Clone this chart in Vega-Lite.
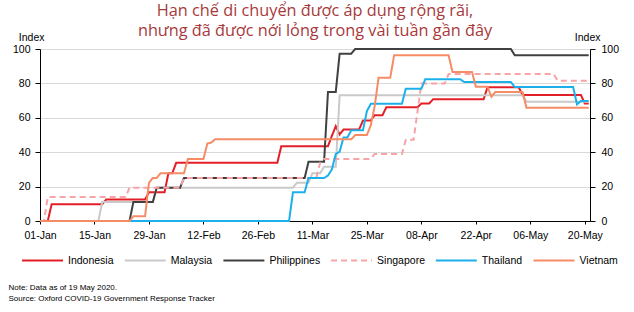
{
  "$schema": "https://vega.github.io/schema/vega-lite/v6.json",
  "width": 550,
  "height": 172,
  "autosize": {"type": "none"},
  "padding": {"left": 40, "top": 49, "right": 44, "bottom": 91},
  "background": "white",
  "title": {
    "text": ["Hạn chế di chuyển được áp dụng rộng rãi,", "nhưng đã được nới lỏng trong vài tuần gần đây"],
    "font": "Open Sans",
    "fontSize": 16.3,
    "fontWeight": "normal",
    "color": "#A8393B",
    "lineHeight": 20,
    "anchor": "middle",
    "frame": "group",
    "offset": -7
  },
  "config": {
    "view": {"stroke": null},
    "axis": {
      "labelFont": "Liberation Sans",
      "labelFontSize": 10.5,
      "labelColor": "#000000",
      "domainColor": "#000000",
      "tickColor": "#000000",
      "domainWidth": 1,
      "tickWidth": 1,
      "titleFont": "Liberation Sans",
      "titleFontSize": 10.5,
      "titleFontWeight": "normal",
      "titleColor": "#000000"
    }
  },
  "data": {
    "values": [
      {"country": "Indonesia", "date": "2020-01-01", "value": 0},
      {"country": "Indonesia", "date": "2020-01-03", "value": 0},
      {"country": "Indonesia", "date": "2020-01-04", "value": 9.8},
      {"country": "Indonesia", "date": "2020-01-17", "value": 9.8},
      {"country": "Indonesia", "date": "2020-01-18", "value": 12.5},
      {"country": "Indonesia", "date": "2020-01-28", "value": 12.5},
      {"country": "Indonesia", "date": "2020-01-29", "value": 16.7},
      {"country": "Indonesia", "date": "2020-02-02", "value": 16.7},
      {"country": "Indonesia", "date": "2020-02-03", "value": 27.8},
      {"country": "Indonesia", "date": "2020-02-04", "value": 27.8},
      {"country": "Indonesia", "date": "2020-02-05", "value": 33.9},
      {"country": "Indonesia", "date": "2020-03-02", "value": 33.9},
      {"country": "Indonesia", "date": "2020-03-03", "value": 43.5},
      {"country": "Indonesia", "date": "2020-03-15", "value": 43.5},
      {"country": "Indonesia", "date": "2020-03-16", "value": 49.5},
      {"country": "Indonesia", "date": "2020-03-17", "value": 55.1},
      {"country": "Indonesia", "date": "2020-03-18", "value": 50.3},
      {"country": "Indonesia", "date": "2020-03-19", "value": 53.2},
      {"country": "Indonesia", "date": "2020-03-23", "value": 53.2},
      {"country": "Indonesia", "date": "2020-03-24", "value": 58.4},
      {"country": "Indonesia", "date": "2020-03-26", "value": 58.4},
      {"country": "Indonesia", "date": "2020-03-27", "value": 61.5},
      {"country": "Indonesia", "date": "2020-03-29", "value": 61.5},
      {"country": "Indonesia", "date": "2020-03-30", "value": 66.1},
      {"country": "Indonesia", "date": "2020-04-07", "value": 66.1},
      {"country": "Indonesia", "date": "2020-04-08", "value": 68.3},
      {"country": "Indonesia", "date": "2020-04-10", "value": 68.3},
      {"country": "Indonesia", "date": "2020-04-11", "value": 70.8},
      {"country": "Indonesia", "date": "2020-04-24", "value": 70.8},
      {"country": "Indonesia", "date": "2020-04-25", "value": 77.8},
      {"country": "Indonesia", "date": "2020-05-03", "value": 77.8},
      {"country": "Indonesia", "date": "2020-05-04", "value": 73.3},
      {"country": "Indonesia", "date": "2020-05-19", "value": 73.3},
      {"country": "Indonesia", "date": "2020-05-20", "value": 68.3},
      {"country": "Indonesia", "date": "2020-05-21", "value": 68.3},

      {"country": "Malaysia", "date": "2020-01-01", "value": 0},
      {"country": "Malaysia", "date": "2020-01-16", "value": 0},
      {"country": "Malaysia", "date": "2020-01-17", "value": 11.1},
      {"country": "Malaysia", "date": "2020-01-30", "value": 11.1},
      {"country": "Malaysia", "date": "2020-01-31", "value": 19.4},
      {"country": "Malaysia", "date": "2020-03-06", "value": 19.4},
      {"country": "Malaysia", "date": "2020-03-07", "value": 22.2},
      {"country": "Malaysia", "date": "2020-03-10", "value": 22.2},
      {"country": "Malaysia", "date": "2020-03-11", "value": 27.8},
      {"country": "Malaysia", "date": "2020-03-13", "value": 27.8},
      {"country": "Malaysia", "date": "2020-03-14", "value": 31.5},
      {"country": "Malaysia", "date": "2020-03-17", "value": 31.5},
      {"country": "Malaysia", "date": "2020-03-18", "value": 73.1},
      {"country": "Malaysia", "date": "2020-05-04", "value": 73.1},
      {"country": "Malaysia", "date": "2020-05-05", "value": 69.4},
      {"country": "Malaysia", "date": "2020-05-21", "value": 69.4},

      {"country": "Philippines", "date": "2020-01-01", "value": 0},
      {"country": "Philippines", "date": "2020-01-24", "value": 0},
      {"country": "Philippines", "date": "2020-01-25", "value": 11.1},
      {"country": "Philippines", "date": "2020-01-30", "value": 11.1},
      {"country": "Philippines", "date": "2020-01-31", "value": 19.4},
      {"country": "Philippines", "date": "2020-02-06", "value": 19.4},
      {"country": "Philippines", "date": "2020-02-07", "value": 25},
      {"country": "Philippines", "date": "2020-03-09", "value": 25},
      {"country": "Philippines", "date": "2020-03-10", "value": 34.4},
      {"country": "Philippines", "date": "2020-03-14", "value": 34.4},
      {"country": "Philippines", "date": "2020-03-15", "value": 75},
      {"country": "Philippines", "date": "2020-03-17", "value": 75},
      {"country": "Philippines", "date": "2020-03-18", "value": 97.3},
      {"country": "Philippines", "date": "2020-03-21", "value": 97.3},
      {"country": "Philippines", "date": "2020-03-22", "value": 100},
      {"country": "Philippines", "date": "2020-05-01", "value": 100},
      {"country": "Philippines", "date": "2020-05-02", "value": 96.3},
      {"country": "Philippines", "date": "2020-05-21", "value": 96.3},

      {"country": "Singapore", "date": "2020-01-01", "value": 0},
      {"country": "Singapore", "date": "2020-01-02", "value": 0},
      {"country": "Singapore", "date": "2020-01-03", "value": 13.9},
      {"country": "Singapore", "date": "2020-01-23", "value": 13.9},
      {"country": "Singapore", "date": "2020-01-24", "value": 19.4},
      {"country": "Singapore", "date": "2020-02-06", "value": 19.4},
      {"country": "Singapore", "date": "2020-02-07", "value": 25},
      {"country": "Singapore", "date": "2020-03-12", "value": 25},
      {"country": "Singapore", "date": "2020-03-13", "value": 34},
      {"country": "Singapore", "date": "2020-03-14", "value": 36.1},
      {"country": "Singapore", "date": "2020-03-26", "value": 36.1},
      {"country": "Singapore", "date": "2020-03-27", "value": 38.9},
      {"country": "Singapore", "date": "2020-04-03", "value": 38.9},
      {"country": "Singapore", "date": "2020-04-04", "value": 47.2},
      {"country": "Singapore", "date": "2020-04-06", "value": 47.2},
      {"country": "Singapore", "date": "2020-04-08", "value": 79.9},
      {"country": "Singapore", "date": "2020-04-14", "value": 79.9},
      {"country": "Singapore", "date": "2020-04-15", "value": 85.5},
      {"country": "Singapore", "date": "2020-05-12", "value": 85.5},
      {"country": "Singapore", "date": "2020-05-13", "value": 81.6},
      {"country": "Singapore", "date": "2020-05-21", "value": 81.6},

      {"country": "Thailand", "date": "2020-01-01", "value": 0},
      {"country": "Thailand", "date": "2020-03-05", "value": 0},
      {"country": "Thailand", "date": "2020-03-06", "value": 16.7},
      {"country": "Thailand", "date": "2020-03-09", "value": 16.7},
      {"country": "Thailand", "date": "2020-03-10", "value": 25},
      {"country": "Thailand", "date": "2020-03-14", "value": 25},
      {"country": "Thailand", "date": "2020-03-15", "value": 26.4},
      {"country": "Thailand", "date": "2020-03-16", "value": 30},
      {"country": "Thailand", "date": "2020-03-17", "value": 38.9},
      {"country": "Thailand", "date": "2020-03-18", "value": 40.3},
      {"country": "Thailand", "date": "2020-03-19", "value": 48.6},
      {"country": "Thailand", "date": "2020-03-20", "value": 48.6},
      {"country": "Thailand", "date": "2020-03-21", "value": 52.8},
      {"country": "Thailand", "date": "2020-03-24", "value": 52.8},
      {"country": "Thailand", "date": "2020-03-25", "value": 63.9},
      {"country": "Thailand", "date": "2020-03-26", "value": 68.1},
      {"country": "Thailand", "date": "2020-04-03", "value": 68.1},
      {"country": "Thailand", "date": "2020-04-04", "value": 76.9},
      {"country": "Thailand", "date": "2020-04-08", "value": 76.9},
      {"country": "Thailand", "date": "2020-04-09", "value": 82.4},
      {"country": "Thailand", "date": "2020-04-18", "value": 82.4},
      {"country": "Thailand", "date": "2020-04-19", "value": 80.8},
      {"country": "Thailand", "date": "2020-05-01", "value": 80.8},
      {"country": "Thailand", "date": "2020-05-02", "value": 77.9},
      {"country": "Thailand", "date": "2020-05-17", "value": 77.9},
      {"country": "Thailand", "date": "2020-05-18", "value": 67.8},
      {"country": "Thailand", "date": "2020-05-19", "value": 69.8},
      {"country": "Thailand", "date": "2020-05-21", "value": 69.8},

      {"country": "Vietnam", "date": "2020-01-01", "value": 0},
      {"country": "Vietnam", "date": "2020-01-24", "value": 0},
      {"country": "Vietnam", "date": "2020-01-25", "value": 2.8},
      {"country": "Vietnam", "date": "2020-01-28", "value": 2.8},
      {"country": "Vietnam", "date": "2020-01-29", "value": 22.2},
      {"country": "Vietnam", "date": "2020-01-30", "value": 25},
      {"country": "Vietnam", "date": "2020-01-31", "value": 25},
      {"country": "Vietnam", "date": "2020-02-01", "value": 27.8},
      {"country": "Vietnam", "date": "2020-02-07", "value": 27.8},
      {"country": "Vietnam", "date": "2020-02-08", "value": 36.1},
      {"country": "Vietnam", "date": "2020-02-12", "value": 36.1},
      {"country": "Vietnam", "date": "2020-02-13", "value": 45},
      {"country": "Vietnam", "date": "2020-02-14", "value": 45.6},
      {"country": "Vietnam", "date": "2020-02-15", "value": 47.5},
      {"country": "Vietnam", "date": "2020-03-21", "value": 47.5},
      {"country": "Vietnam", "date": "2020-03-22", "value": 50},
      {"country": "Vietnam", "date": "2020-03-25", "value": 50},
      {"country": "Vietnam", "date": "2020-03-26", "value": 55.6},
      {"country": "Vietnam", "date": "2020-03-27", "value": 66.7},
      {"country": "Vietnam", "date": "2020-03-28", "value": 83.3},
      {"country": "Vietnam", "date": "2020-03-31", "value": 83.3},
      {"country": "Vietnam", "date": "2020-04-01", "value": 96.3},
      {"country": "Vietnam", "date": "2020-04-15", "value": 96.3},
      {"country": "Vietnam", "date": "2020-04-16", "value": 86.7},
      {"country": "Vietnam", "date": "2020-04-21", "value": 86.7},
      {"country": "Vietnam", "date": "2020-04-22", "value": 78.1},
      {"country": "Vietnam", "date": "2020-04-25", "value": 78.1},
      {"country": "Vietnam", "date": "2020-04-26", "value": 72.2},
      {"country": "Vietnam", "date": "2020-04-27", "value": 75},
      {"country": "Vietnam", "date": "2020-05-04", "value": 75},
      {"country": "Vietnam", "date": "2020-05-05", "value": 65.8},
      {"country": "Vietnam", "date": "2020-05-21", "value": 65.8}
    ]
  },
  "layer": [
    {
      "mark": {"type": "line", "strokeWidth": 2},
      "encoding": {
        "x": {
          "field": "date",
          "type": "temporal",
          "scale": {
            "type": "utc",
            "domain": [
              {"year": 2020, "month": 1, "date": 1, "utc": true},
              {"year": 2020, "month": 5, "date": 21, "hours": 8, "utc": true}
            ]
          },
          "axis": {
            "values": [
              {"year": 2020, "month": 1, "date": 1, "utc": true},
              {"year": 2020, "month": 1, "date": 15, "utc": true},
              {"year": 2020, "month": 1, "date": 29, "utc": true},
              {"year": 2020, "month": 2, "date": 12, "utc": true},
              {"year": 2020, "month": 2, "date": 26, "utc": true},
              {"year": 2020, "month": 3, "date": 11, "utc": true},
              {"year": 2020, "month": 3, "date": 25, "utc": true},
              {"year": 2020, "month": 4, "date": 8, "utc": true},
              {"year": 2020, "month": 4, "date": 22, "utc": true},
              {"year": 2020, "month": 5, "date": 6, "utc": true},
              {"year": 2020, "month": 5, "date": 20, "utc": true}
            ],
            "format": "%d-%b",
            "grid": false,
            "tickSize": 3,
            "labelPadding": 6,
            "labelFontSize": 10.5,
            "labelFlush": false,
            "labelOverlap": false,
            "title": ["Note: Data as of 19 May 2020.", "Source: Oxford COVID-19 Government Response Tracker"],
            "titleFont": "Liberation Sans",
            "titleFontSize": 8,
            "titleLineHeight": 11,
            "titleX": -32,
            "titleY": 68,
            "titleAlign": "left",
            "titleAnchor": "start",
            "titleBaseline": "alphabetic"
          }
        },
        "y": {
          "field": "value",
          "type": "quantitative",
          "scale": {"domain": [0, 100]},
          "axis": {
            "values": [0, 20, 40, 60, 80, 100],
            "grid": true,
            "gridColor": "#d9d9d9",
            "gridWidth": 1,
            "tickSize": 5,
            "labelPadding": 5,
            "title": "Index",
            "titleAngle": 0,
            "titleX": 4,
            "titleY": -9,
            "titleAlign": "right",
            "titleBaseline": "alphabetic"
          }
        },
        "color": {
          "field": "country",
          "type": "nominal",
          "scale": {
            "domain": ["Indonesia", "Malaysia", "Philippines", "Singapore", "Thailand", "Vietnam"],
            "range": ["#E41E26", "#C9C9C9", "#404040", "#F8A3A5", "#1CB0EB", "#F68C66"]
          },
          "legend": {
            "title": null,
            "orient": "none",
            "legendX": -19,
            "legendY": 190,
            "direction": "horizontal",
            "symbolType": "stroke",
            "symbolSize": 1681,
            "symbolStrokeWidth": 2,
            "labelFont": "Liberation Sans",
            "labelFontSize": 10.5,
            "labelColor": "#000000",
            "labelOffset": 4,
            "columnPadding": 6.7
          }
        },
        "strokeDash": {
          "field": "country",
          "type": "nominal",
          "scale": {
            "domain": ["Indonesia", "Malaysia", "Philippines", "Singapore", "Thailand", "Vietnam"],
            "range": [[1, 0], [1, 0], [1, 0], [6, 4], [1, 0], [1, 0]]
          },
          "legend": {
            "title": null,
            "orient": "none",
            "legendX": -19,
            "legendY": 190,
            "direction": "horizontal",
            "symbolType": "stroke",
            "symbolSize": 1681,
            "symbolStrokeWidth": 2,
            "labelFont": "Liberation Sans",
            "labelFontSize": 10.5,
            "labelColor": "#000000",
            "labelOffset": 4,
            "columnPadding": 6.7
          }
        }
      }
    },
    {
      "data": {"values": [{"level": 0}]},
      "mark": {"type": "rule", "opacity": 0},
      "encoding": {
        "y": {
          "field": "level",
          "type": "quantitative",
          "scale": {"domain": [0, 100]},
          "axis": {
            "orient": "right",
            "values": [0, 20, 40, 60, 80, 100],
            "grid": false,
            "tickSize": 5,
            "labelPadding": 6,
            "title": "Index",
            "titleAngle": 0,
            "titleX": 10,
            "titleY": -9,
            "titleAlign": "right",
            "titleBaseline": "alphabetic"
          }
        }
      }
    }
  ],
  "resolve": {"scale": {"y": "independent"}}
}
